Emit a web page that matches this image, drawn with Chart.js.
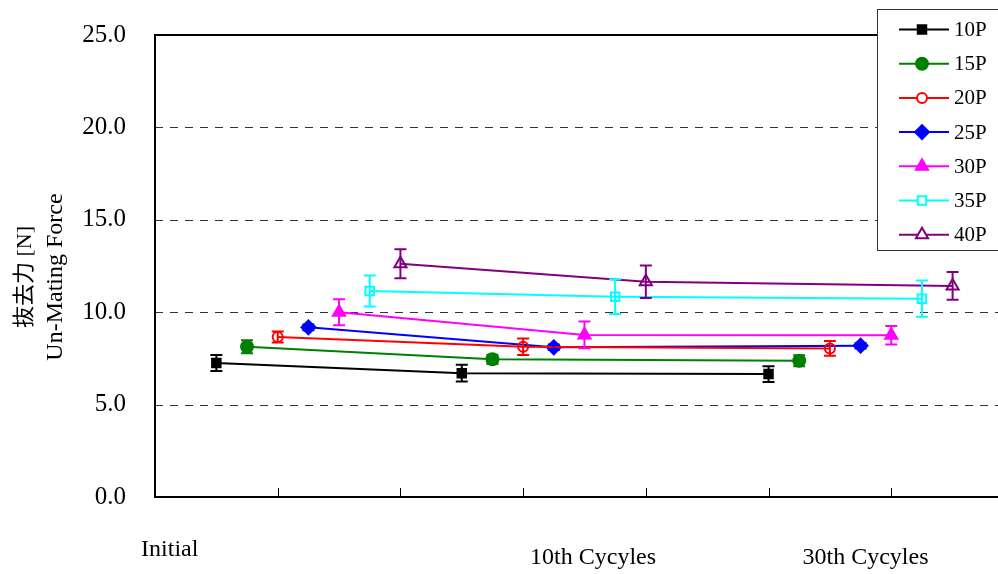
<!DOCTYPE html>
<html>
<head>
<meta charset="utf-8">
<script src="https://cdn.jsdelivr.net/npm/chart.js@4/dist/chart.umd.min.js"></script>
<style>
  html, body { margin: 0; padding: 0; background: #fff; }
  canvas { display: block; }
</style>
</head>
<body>
<canvas id="chart" width="998" height="574"></canvas>
<script>
// categories and their positions on the x axis
const categories = ['Initial', '10th Cycyles', '30th Cycyles'];
const groupStart = [0.5, 2.5, 5.0];
const seriesStep = 0.25;

const seriesNames = ['10P', '15P', '20P', '25P', '30P', '35P', '40P'];

// mean values (Initial, 10th, 30th)
const v10P = [7.25, 6.70, 6.65];
const v15P = [8.13, 7.45, 7.37];
const v20P = [8.66, 8.13, 8.04];
const v25P = [9.18, 8.10, 8.19];
const v30P = [10.00, 8.77, 8.75];
const v35P = [11.15, 10.84, 10.73];
const v40P = [12.62, 11.65, 11.42];

// error bar half widths
const e10P = [0.43, 0.45, 0.43];
const e15P = [0.35, 0.25, 0.30];
const e20P = [0.30, 0.45, 0.40];
const e25P = [0.15, 0.15, 0.15];
const e30P = [0.70, 0.72, 0.50];
const e35P = [0.84, 0.94, 0.98];
const e40P = [0.78, 0.88, 0.75];

const yTicks = [0, 5, 10, 15, 20, 25];

const values = [v10P, v15P, v20P, v25P, v30P, v35P, v40P];
const errors = [e10P, e15P, e20P, e25P, e30P, e35P, e40P];

const colors = ['#000000', '#008000', '#ff0000', '#0000ff', '#ff00ff', '#00ffff', '#800080'];
const styles = ['rect', 'circle', 'circle', 'rectRot', 'triangle', 'rect', 'triangle'];
const filled = [true, true, false, true, true, false, false];
const radii = [6, 6, 5, 7, 7, 6, 7];

const serif = '"Liberation Serif", "Times New Roman", serif';

const datasets = seriesNames.map((name, i) => ({
  label: name,
  data: values[i].map((v, g) => ({ x: groupStart[g] + i * seriesStep, y: v })),
  errs: errors[i],
  borderColor: colors[i],
  backgroundColor: colors[i],
  pointBackgroundColor: filled[i] ? colors[i] : 'rgba(0,0,0,0)',
  pointBorderColor: colors[i],
  pointStyle: styles[i],
  pointRadius: radii[i],
  pointBorderWidth: 2,
  borderWidth: 2,
  tension: 0,
  fill: false
}));

const customDraw = {
  id: 'customDraw',
  beforeDatasetsDraw(chart) {
    const { ctx, chartArea: a, scales: { x, y } } = chart;
    ctx.save();
    // dashed grid
    ctx.strokeStyle = '#333';
    ctx.lineWidth = 1;
    ctx.setLineDash([8, 7]);
    yTicks.forEach(t => {
      if (t === 0 || t === 25) return;
      const py = Math.round(y.getPixelForValue(t)) + 0.5;
      ctx.beginPath();
      ctx.moveTo(a.left, py);
      ctx.lineTo(a.right, py);
      ctx.stroke();
    });
    ctx.setLineDash([]);
    // frame
    ctx.strokeStyle = '#000';
    ctx.lineWidth = 2;
    ctx.beginPath();
    ctx.moveTo(a.right + 5, a.top);
    ctx.lineTo(a.left, a.top);
    ctx.lineTo(a.left, a.bottom);
    ctx.lineTo(a.right + 5, a.bottom);
    ctx.stroke();
    // inward x ticks
    ctx.lineWidth = 1;
    for (let t = 1; t <= 6; t++) {
      const px = Math.round(x.getPixelForValue(t)) + 0.5;
      ctx.beginPath();
      ctx.moveTo(px, a.bottom);
      ctx.lineTo(px, a.bottom - 9);
      ctx.stroke();
    }
    ctx.restore();
  },
  afterDatasetsDraw(chart) {
    const { ctx, scales: { x, y } } = chart;
    ctx.save();
    ctx.lineWidth = 2;
    chart.data.datasets.forEach(ds => {
      ctx.strokeStyle = ds.borderColor;
      ds.data.forEach((p, k) => {
        const px = x.getPixelForValue(p.x);
        const top = y.getPixelForValue(p.y + ds.errs[k]);
        const bot = y.getPixelForValue(p.y - ds.errs[k]);
        ctx.beginPath();
        ctx.moveTo(px, top); ctx.lineTo(px, bot);
        ctx.moveTo(px - 6, top); ctx.lineTo(px + 6, top);
        ctx.moveTo(px - 6, bot); ctx.lineTo(px + 6, bot);
        ctx.stroke();
      });
    });
    ctx.restore();
  },
  afterDraw(chart) {
    const { ctx, scales: { x } } = chart;
    ctx.save();
    // category labels
    ctx.fillStyle = '#000';
    ctx.font = '24px ' + serif;
    ctx.textAlign = 'center';
    ctx.textBaseline = 'middle';
    const labelPos = [[0.12, 550], [3.57, 558], [5.79, 558]];
    categories.forEach((c, i) => {
      ctx.fillText(c, x.getPixelForValue(labelPos[i][0]), labelPos[i][1]);
    });
    // y title
    ctx.translate(0, 277);
    ctx.rotate(-Math.PI / 2);
    ctx.font = '22px ' + serif + ', "Noto Sans CJK JP"';
    ctx.fillText('抜去力 [N]', 0, 25);
    ctx.font = '24px ' + serif;
    ctx.fillText('Un-Mating Force', 0, 56);
    ctx.restore();

    // legend
    ctx.save();
    ctx.fillStyle = '#fff';
    ctx.strokeStyle = '#333';
    ctx.lineWidth = 1;
    ctx.fillRect(877.5, 9.5, 130, 241);
    ctx.strokeRect(877.5, 9.5, 130, 241);
    ctx.font = '21px ' + serif;
    ctx.textBaseline = 'middle';
    chart.data.datasets.forEach((ds, i) => {
      const ly = 29.5 + i * 34.2;
      ctx.strokeStyle = ds.borderColor;
      ctx.lineWidth = 2;
      ctx.beginPath();
      ctx.moveTo(899, ly); ctx.lineTo(949, ly);
      ctx.stroke();
      ctx.fillStyle = ds.pointBackgroundColor === 'rgba(0,0,0,0)' ? '#fff' : ds.pointBackgroundColor;
      ctx.strokeStyle = ds.pointBorderColor;
      ctx.lineWidth = ds.pointBorderWidth;
      Chart.helpers.drawPoint(ctx, { pointStyle: ds.pointStyle, radius: ds.pointRadius, borderWidth: ds.pointBorderWidth, rotation: 0 }, 922, ly);
      ctx.fillStyle = '#000';
      ctx.fillText(ds.label, 954, ly + 1);
    });
    ctx.restore();
  }
};

new Chart(document.getElementById('chart'), {
  type: 'line',
  data: { datasets },
  options: {
    responsive: false,
    animation: false,
    layout: { autoPadding: false, padding: { top: 35, right: 0, left: 0, bottom: 0 } },
    plugins: { legend: { display: false }, tooltip: { enabled: false } },
    scales: {
      x: {
        type: 'linear',
        min: 0,
        max: 6.87,
        ticks: { display: false },
        grid: { display: false, drawTicks: false },
        border: { display: false },
        afterFit(s) { s.height = 77; s.paddingLeft = 0; s.paddingRight = 0; }
      },
      y: {
        min: 0,
        max: 25,
        ticks: {
          stepSize: 5,
          padding: 29,
          color: '#000',
          font: { family: serif, size: 25 },
          callback: v => v.toFixed(1)
        },
        grid: { display: false, drawTicks: false },
        border: { display: false },
        afterFit(s) { s.width = 155; s.paddingTop = 0; s.paddingBottom = 0; }
      }
    }
  },
  plugins: [customDraw]
});
</script>
</body>
</html>
